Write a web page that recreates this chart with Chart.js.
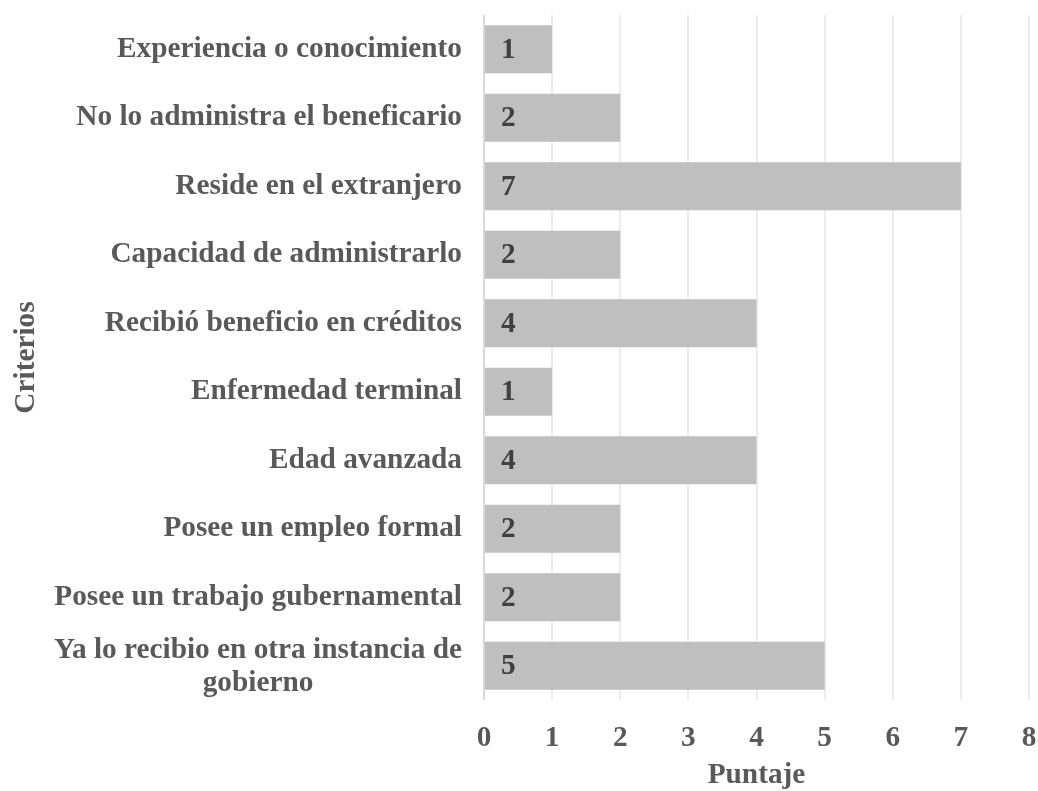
<!DOCTYPE html>
<html>
<head>
<meta charset="utf-8">
<script src="https://cdn.jsdelivr.net/npm/chart.js@4"></script>
<style>
  body { margin: 0; background: #fff; }
  #wrap { width: 1038px; height: 791px; }
</style>
</head>
<body>
<div id="wrap"><canvas id="myChart" width="1038" height="791"></canvas></div>
<script>
// data
const criterios = [
  'Experiencia o conocimiento',
  'No lo administra el beneficario',
  'Reside en el extranjero',
  'Capacidad de administrarlo',
  'Recibió beneficio en créditos',
  'Enfermedad terminal',
  'Edad avanzada',
  'Posee un empleo formal',
  'Posee un trabajo gubernamental',
  ['Ya lo recibio en otra instancia de', 'gobierno']
];
const puntajes = [1, 2, 7, 2, 4, 1, 4, 2, 2, 5];
const xTicks = [0, 1, 2, 3, 4, 5, 6, 7, 8];

const serif = "'Liberation Serif', 'Times New Roman', serif";
const textGrey = '#595959';
const fontSize = 29.3;

// value labels inside the bars, near the start
const barLabels = {
  id: 'barLabels',
  afterDatasetsDraw(chart) {
    const ctx = chart.ctx;
    const meta = chart.getDatasetMeta(0);
    ctx.save();
    ctx.font = 'bold ' + fontSize + 'px ' + serif;
    ctx.fillStyle = '#404040';
    ctx.textAlign = 'left';
    ctx.textBaseline = 'middle';
    meta.data.forEach((bar, i) => {
      ctx.fillText(String(puntajes[i]), bar.base + 16, bar.y + 1);
    });
    ctx.restore();
  }
};

// category labels, the two-line one centred per line like the original
const catLabels = {
  id: 'catLabels',
  afterDraw(chart) {
    const ctx = chart.ctx;
    const yScale = chart.scales.y;
    const right = chart.chartArea.left - 22;
    ctx.save();
    ctx.font = 'bold ' + fontSize + 'px ' + serif;
    ctx.fillStyle = textGrey;
    ctx.textBaseline = 'middle';
    criterios.forEach((lab, i) => {
      const y = yScale.getPixelForValue(i);
      if (Array.isArray(lab)) {
        const w = Math.max(...lab.map(l => ctx.measureText(l).width));
        const cx = right - w / 2;
        ctx.textAlign = 'center';
        const lh = 33;
        lab.forEach((l, j) => {
          ctx.fillText(l, cx, y + 1 + (j - (lab.length - 1) / 2) * lh);
        });
      } else {
        ctx.textAlign = 'right';
        ctx.fillText(lab, right, y);
      }
    });
    ctx.restore();
  }
};

const ctx = document.getElementById('myChart').getContext('2d');
new Chart(ctx, {
  type: 'bar',
  data: {
    labels: criterios,
    datasets: [{
      data: puntajes,
      backgroundColor: '#bfbfbf',
      borderWidth: 0,
      barPercentage: 0.7,
      categoryPercentage: 1.0
    }]
  },
  options: {
    indexAxis: 'y',
    responsive: false,
    animation: false,
    devicePixelRatio: 1,
    layout: { padding: { top: 15, right: 9, bottom: 0, left: 9 } },
    plugins: {
      legend: { display: false },
      tooltip: { enabled: false }
    },
    scales: {
      x: {
        min: 0,
        max: 8,
        afterBuildTicks(scale) {
          scale.ticks = xTicks.map(v => ({ value: v }));
        },
        afterFit(scale) {
          scale.height = 91;
          scale.paddingLeft = 0;
          scale.paddingRight = 0;
        },
        grid: {
          color: ctx => ctx.tick && ctx.tick.value === 0 ? '#d9d9d9' : '#ececec',
          lineWidth: 2,
          drawTicks: false
        },
        border: { display: false },
        ticks: {
          padding: 21,
          color: textGrey,
          font: { family: serif, size: fontSize, weight: 'bold' }
        },
        title: {
          display: true,
          text: 'Puntaje',
          color: textGrey,
          font: { family: serif, size: fontSize, weight: 'bold' },
          padding: { top: 0, bottom: -2 }
        }
      },
      y: {
        grid: { display: false, drawTicks: false },
        border: { display: false },
        afterFit(scale) {
          scale.width = 475;
          scale.paddingTop = 0;
          scale.paddingBottom = 0;
        },
        ticks: {
          padding: 0,
          color: 'rgba(0,0,0,0)',
          font: { family: serif, size: fontSize, weight: 'bold' }
        },
        title: {
          display: true,
          text: 'Criterios',
          color: textGrey,
          font: { family: serif, size: fontSize, weight: 'bold' },
          padding: 0
        }
      }
    }
  },
  plugins: [barLabels, catLabels]
});
</script>
</body>
</html>
